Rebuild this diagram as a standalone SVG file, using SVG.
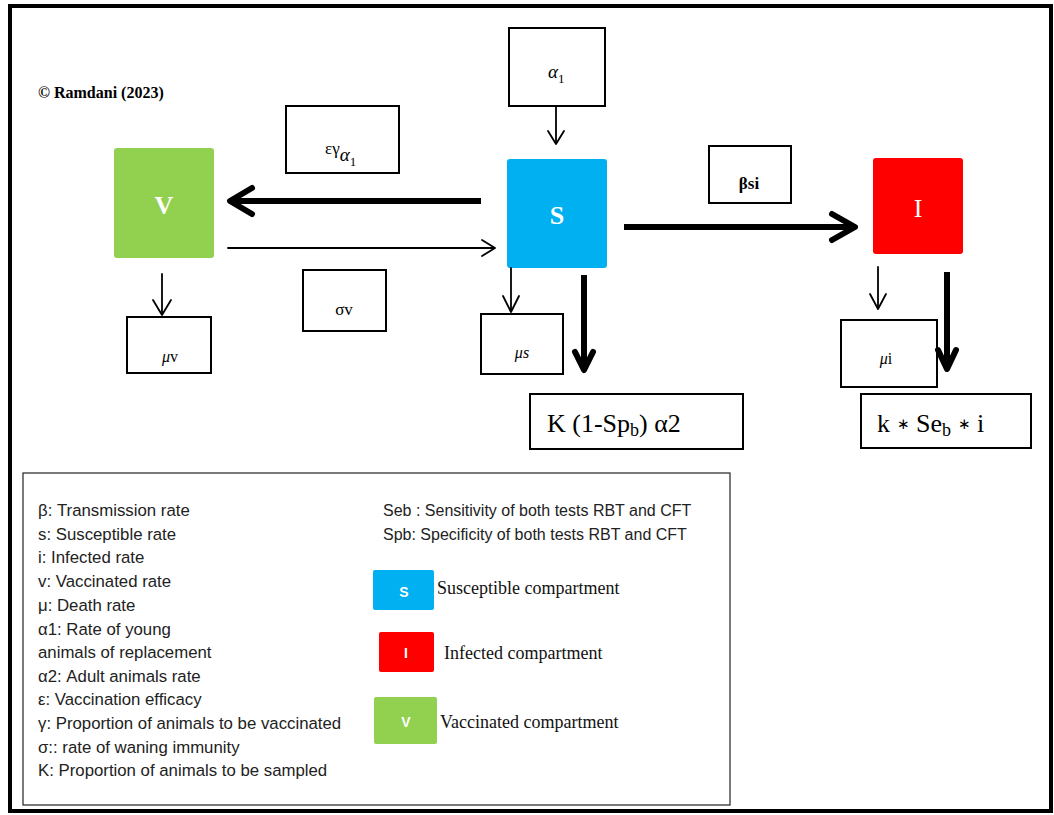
<svg xmlns="http://www.w3.org/2000/svg" width="1054" height="815" viewBox="0 0 1054 815">
<style>
.box{fill:#fff;stroke:#000;stroke-width:2}
.serif{font-family:"Liberation Serif","Times New Roman",serif}
.sans{font-family:"Liberation Sans",Arial,sans-serif}
.thin{stroke:#000;stroke-width:1.8;fill:none;stroke-linecap:round;stroke-linejoin:round}
.thick{stroke:#000;stroke-width:6;fill:none;stroke-linecap:butt;stroke-linejoin:round}
.thickhead{stroke:#000;stroke-width:6;fill:none;stroke-linecap:round;stroke-linejoin:round}
.leg{font-family:"Liberation Sans",Arial,sans-serif;font-size:16.8px;fill:#222}
.leg2{font-family:"Liberation Sans",Arial,sans-serif;font-size:16px;fill:#222}
.comp{font-family:"Liberation Serif","Times New Roman",serif;font-size:18px;fill:#111}
</style>
<rect x="0" y="0" width="1054" height="815" fill="#fff"/>
<rect x="10" y="6" width="1041" height="805" fill="none" stroke="#000" stroke-width="4"/>
<text class="serif" x="38" y="98" font-size="16" font-weight="bold">© Ramdani (2023)</text>

<g id="node-V"><rect x="114" y="148" width="100" height="110" rx="3" fill="#92D050"/><text class="serif" x="164" y="214" font-size="26" font-weight="bold" fill="#fff" text-anchor="middle">V</text></g>
<g id="node-S"><rect x="507" y="159" width="100" height="109" rx="3" fill="#00B0F0"/><text class="serif" x="557" y="224" font-size="26" font-weight="bold" fill="#fff" text-anchor="middle">S</text></g>
<g id="node-I"><rect x="873" y="158" width="90" height="96" rx="3" fill="#FF0000"/><text class="serif" x="918" y="217" font-size="26" fill="#fff" text-anchor="middle">I</text></g>

<g id="label-alpha1"><rect class="box" x="509" y="28" width="96" height="78"/><text class="serif" x="548" y="78" font-size="19" font-style="italic">α<tspan font-style="normal" font-size="13" dy="5">1</tspan></text></g>
<g id="label-eps"><rect class="box" x="286" y="106" width="113" height="67"/><text class="serif" x="325" y="154" font-size="17">εγ<tspan font-style="italic" font-size="19" dy="7">α</tspan><tspan font-size="13" dy="5">1</tspan></text></g>
<g id="label-sigmav"><rect class="box" x="303" y="270" width="83" height="61"/><text class="serif" x="344" y="315" font-size="17" text-anchor="middle">σv</text></g>
<g id="label-muv"><rect class="box" x="127" y="317" width="84" height="56"/><text class="serif" x="170" y="362" font-size="16" text-anchor="middle"><tspan font-style="italic">μ</tspan>v</text></g>
<g id="label-beta"><rect class="box" x="709" y="146" width="82" height="57"/><text class="serif" x="749" y="189" font-size="17" font-weight="bold" text-anchor="middle">βsi</text></g>
<g id="label-mus"><rect class="box" x="481" y="314" width="82" height="60"/><text class="serif" x="522" y="358" font-size="16" font-style="italic" text-anchor="middle">μs</text></g>
<g id="label-mui"><rect class="box" x="841" y="320" width="96" height="67"/><text class="serif" x="886" y="364" font-size="16" text-anchor="middle"><tspan font-style="italic">μ</tspan>i</text></g>
<g id="label-K"><rect class="box" x="530" y="394" width="213" height="55"/><text class="serif" x="547" y="432" font-size="26">K (1-Sp<tspan font-size="18" dy="4">b</tspan><tspan dy="-4">) α2</tspan></text></g>
<g id="label-k"><rect class="box" x="861" y="394" width="170" height="54"/><text class="serif" x="877" y="432" font-size="26">k <tspan font-size="15" dy="-3">∗</tspan><tspan dy="3"> Se</tspan><tspan font-size="18" dy="4">b</tspan><tspan dy="-4"> </tspan><tspan font-size="15" dy="-3">∗</tspan><tspan dy="3"> i</tspan></text></g>

<g id="connectors">
<line class="thick" x1="481" y1="201" x2="232" y2="201"/>
<polyline class="thickhead" points="252,188 230,201 252,214"/>
<line class="thin" x1="228" y1="248" x2="494" y2="248"/>
<polyline class="thin" points="482,240 495,248 482,256"/>
<line class="thick" x1="624" y1="227" x2="853" y2="227"/>
<polyline class="thickhead" points="832,214 855,227 832,240"/>
<line class="thin" x1="556" y1="106" x2="556" y2="143"/>
<polyline class="thin" points="548,131 556,144 564,131"/>
<line class="thin" x1="162" y1="274" x2="162" y2="314"/>
<polyline class="thin" points="153,300 162,315 171,300"/>
<line class="thin" x1="511" y1="268" x2="511" y2="311"/>
<polyline class="thin" points="503,296 511,312 519,296"/>
<line class="thin" x1="878" y1="267" x2="878" y2="308"/>
<polyline class="thin" points="870,294 878,309 886,294"/>
<line class="thick" x1="584" y1="275" x2="584" y2="368"/>
<polyline class="thickhead" points="575,352 584,370 593,352"/>
<line class="thick" x1="947" y1="272" x2="947" y2="367"/>
<polyline class="thickhead" points="938,350 947,369 956,350"/>
</g>

<g id="legend">
<rect x="23" y="473" width="707" height="332" fill="#fff" stroke="#222" stroke-width="1.2"/>
<text class="leg" x="38" y="516">β: Transmission rate</text>
<text class="leg" x="38" y="540">s: Susceptible rate</text>
<text class="leg" x="38" y="563">i: Infected rate</text>
<text class="leg" x="38" y="587">v: Vaccinated rate</text>
<text class="leg" x="38" y="611">μ: Death rate</text>
<text class="leg" x="38" y="635">α1: Rate of young</text>
<text class="leg" x="38" y="658">animals of replacement</text>
<text class="leg" x="38" y="682">α2: Adult animals rate</text>
<text class="leg" x="38" y="705">ε: Vaccination efficacy</text>
<text class="leg" x="38" y="729">γ: Proportion of animals to be vaccinated</text>
<text class="leg" x="38" y="753">σ:: rate of waning immunity</text>
<text class="leg" x="38" y="776">K: Proportion of animals to be sampled</text>
<text class="leg2" x="383" y="516">Seb : Sensitivity of both tests RBT and CFT</text>
<text class="leg2" x="383" y="540">Spb: Specificity of both tests RBT and CFT</text>
<rect x="373" y="570" width="61" height="40" rx="2" fill="#00B0F0"/>
<text class="sans" x="404" y="597" font-size="14" font-weight="bold" fill="#fff" text-anchor="middle">S</text>
<text class="comp" x="437" y="594">Susceptible compartment</text>
<rect x="379" y="632" width="55" height="40" rx="2" fill="#FF0000"/>
<text class="sans" x="406" y="658" font-size="14" font-weight="bold" fill="#fff" text-anchor="middle">I</text>
<text class="comp" x="444" y="659">Infected compartment</text>
<rect x="374" y="697" width="63" height="47" rx="2" fill="#92D050"/>
<text class="sans" x="406" y="727" font-size="14" font-weight="bold" fill="#fff" text-anchor="middle">V</text>
<text class="comp" x="440" y="728">Vaccinated compartment</text>
</g>
</svg>
